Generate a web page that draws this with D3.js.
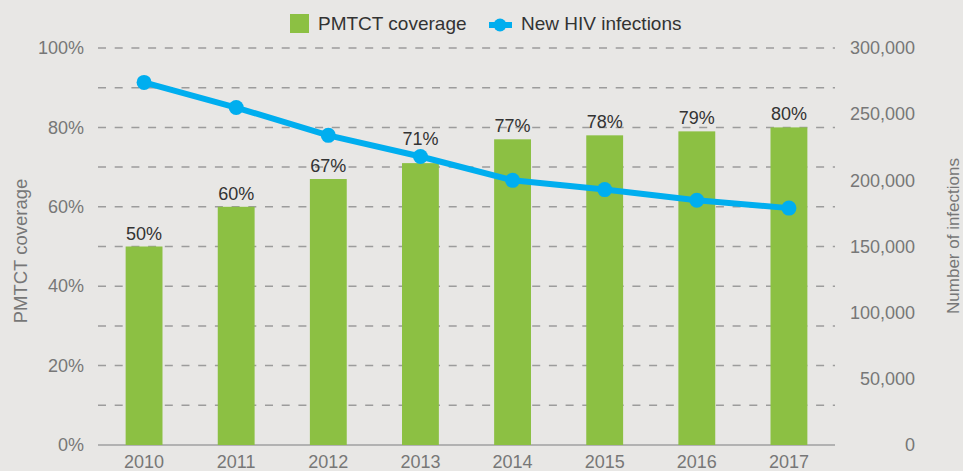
<!DOCTYPE html>
<html><head><meta charset="utf-8">
<script src="https://cdn.jsdelivr.net/npm/d3@7"></script>
<style>
html,body{margin:0;padding:0;background:#e8e7e5;}
svg{display:block;font-family:"Liberation Sans",Arial,sans-serif;}
</style></head>
<body>
<svg id="c" width="963" height="471"></svg>
<script>
const years = ["2010","2011","2012","2013","2014","2015","2016","2017"];
const coverage = [50,60,67,71,77,78,79,80];
const infections = [274000,255000,234000,218000,200000,193000,185000,179000];
const leftTicks = [0,20,40,60,80,100];
const rightTicks = [0,50000,100000,150000,200000,250000,300000];
const gridTicks = [10,20,30,40,50,60,70,80,90,100];

const svg = d3.select("#c");
const x0 = 98, x1 = 835, yTop = 48, yBot = 445;
const x = d3.scaleBand().domain(years).range([x0,x1]).paddingInner(0.6).paddingOuter(0.3);
const yL = d3.scaleLinear().domain([0,100]).range([yBot,yTop]);
const yR = d3.scaleLinear().domain([0,300000]).range([yBot,yTop]);
const cx = d => x(d) + x.bandwidth()/2;

// grid
svg.append("g").selectAll("line").data(gridTicks).join("line")
  .attr("x1",x0).attr("x2",x1).attr("y1",d=>yL(d)).attr("y2",d=>yL(d))
  .attr("stroke","#9c9c9c").attr("stroke-width",1.5).attr("stroke-dasharray","8,8.7");
svg.append("line").attr("x1",x0).attr("x2",x1).attr("y1",yBot).attr("y2",yBot)
  .attr("stroke","#a0a0a0").attr("stroke-width",1.5);

// bars
svg.append("g").selectAll("rect").data(years).join("rect")
  .attr("x",d=>x(d)).attr("width",x.bandwidth())
  .attr("y",(d,i)=>yL(coverage[i])).attr("height",(d,i)=>yBot-yL(coverage[i]))
  .attr("fill","#8cc043");

// axes
const gl = svg.append("g").attr("transform",`translate(84,0)`)
  .call(d3.axisLeft(yL).tickValues(leftTicks).tickFormat(d=>d+"%").tickSize(0).tickPadding(0));
const gr = svg.append("g").attr("transform",`translate(915,0)`)
  .call(d3.axisLeft(yR).tickValues(rightTicks).tickFormat(d3.format(",")).tickSize(0).tickPadding(0));
const gx = svg.append("g").attr("transform",`translate(0,${yBot})`)
  .call(d3.axisBottom(x).tickSize(0).tickPadding(0));
[gl,gr,gx].forEach(g=>{
  g.select(".domain").remove();
  g.selectAll("text").attr("fill","#777").attr("font-size","18px").attr("font-family","Liberation Sans, Arial, sans-serif");
});
gx.selectAll("text").attr("dy",null).attr("y",22.5);

// line
const line = d3.line().x((d,i)=>cx(years[i])).y(d=>yR(d));
svg.append("path").datum(infections).attr("d",line)
  .attr("fill","none").attr("stroke","#00aeef").attr("stroke-width",6).attr("stroke-linejoin","round");
svg.append("g").selectAll("circle").data(infections).join("circle")
  .attr("cx",(d,i)=>cx(years[i])).attr("cy",d=>yR(d)).attr("r",7.5).attr("fill","#00aeef");

// bar labels
svg.append("g").selectAll("text").data(coverage).join("text")
  .attr("x",(d,i)=>cx(years[i]))
  .attr("y",(d,i)=>{
    let b = yL(d) - 7;
    const ly = yR(infections[i]);
    if (b > ly - 5 && b - 13 < ly + 5) b = ly - 12;
    return b;
  })
  .attr("text-anchor","middle").attr("font-size","18px").attr("fill","#333")
  .text(d=>d+"%");

// axis titles
svg.append("text").attr("transform","translate(26.5,251) rotate(-90)")
  .attr("text-anchor","middle").attr("font-size","18.5px").attr("fill","#777").text("PMTCT coverage");
svg.append("text").attr("transform","translate(959,236) rotate(-90)")
  .attr("text-anchor","middle").attr("font-size","17px").attr("fill","#777").text("Number of infections");

// legend
const lg = svg.append("g");
lg.append("rect").attr("x",290).attr("y",14).attr("width",19).attr("height",19).attr("fill","#8cc043");
lg.append("text").attr("x",318).attr("y",30).attr("font-size","19px").attr("fill","#333").text("PMTCT coverage");
lg.append("line").attr("x1",489).attr("x2",512).attr("y1",25).attr("y2",25).attr("stroke","#00aeef").attr("stroke-width",6);
lg.append("circle").attr("cx",500).attr("cy",25).attr("r",6.5).attr("fill","#00aeef");
lg.append("text").attr("x",521).attr("y",30).attr("font-size","19px").attr("fill","#333").text("New HIV infections");
</script>
</body></html>
